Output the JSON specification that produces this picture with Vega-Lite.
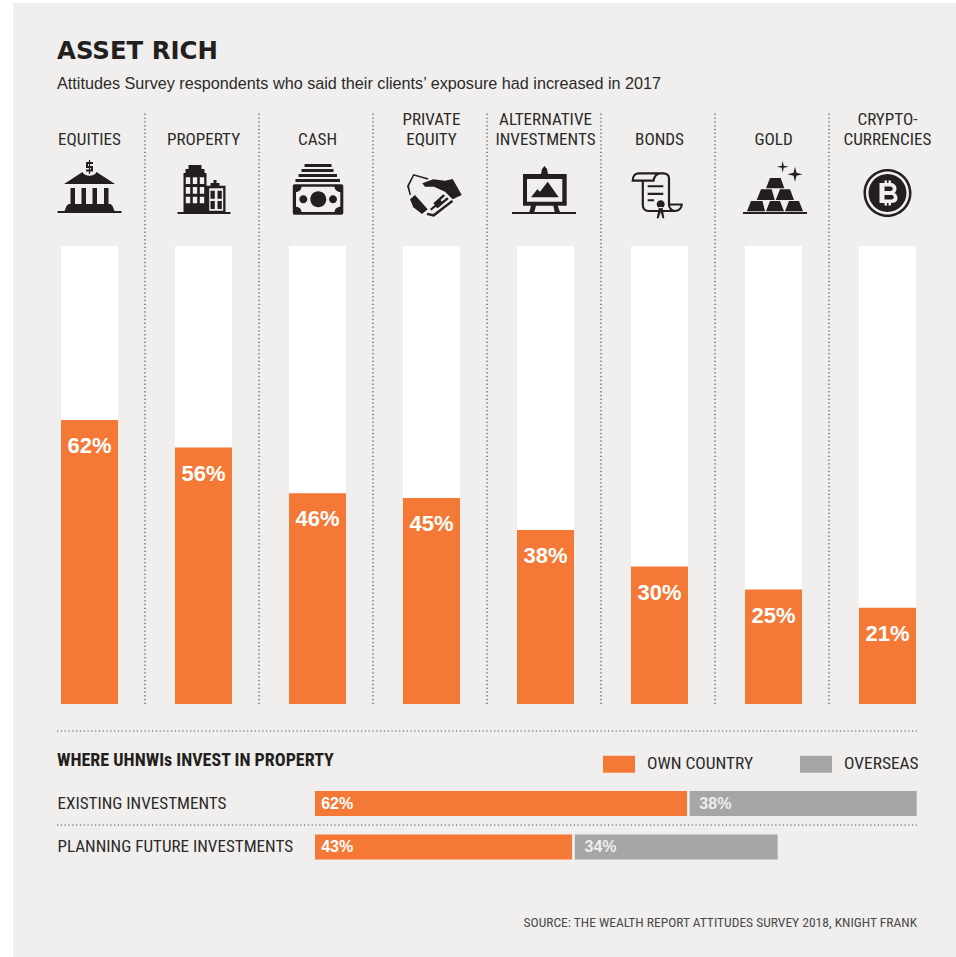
{
"$schema":"https://vega.github.io/schema/vega-lite/v6.json",
"width":943,"height":954,
"padding":{"left":13,"top":3,"right":0,"bottom":0},
"autosize":{"type":"none"},
"background":"#ffffff",
"view":{"fill":"#f0efed","stroke":null},
"config":{"view":{"stroke":null},"font":"Liberation Sans"},
"title":{"text":"ASSET RICH","subtitle":"Attitudes Survey respondents who said their clients’ exposure had increased in 2017","anchor":"start","frame":"group","dx":44,"offset":-90,"font":"DejaVu Sans","fontWeight":"bold","fontSize":24.4,"color":"#231f20","subtitleFont":"Liberation Sans","subtitleFontSize":16.2,"subtitleColor":"#2b2a29","subtitlePadding":11},
"resolve":{"scale":{"x":"independent","y":"independent"}},
"layer":[
{
"data":{"values":[
{"category":"EQUITIES","value":0.62},
{"category":"PROPERTY","value":0.56},
{"category":"CASH","value":0.46},
{"category":"PRIVATE EQUITY","value":0.45},
{"category":"ALTERNATIVE INVESTMENTS","value":0.38},
{"category":"BONDS","value":0.30},
{"category":"GOLD","value":0.25},
{"category":"CRYPTO-CURRENCIES","value":0.21}
]},
"encoding":{"x":{"field":"category","type":"nominal","sort":null,"title":null,
"scale":{"range":[19.5,931.5],"paddingInner":0.5,"paddingOuter":0.25},
"axis":{"orient":"top","offset":-125,"domain":false,"ticks":false,"labelAngle":0,"labelPadding":0,"labelFont":"Roboto Condensed","labelFontSize":17.1,"labelColor":"#2b2a29","labelLineHeight":20,"labelBaseline":"bottom","labelOverlap":false,"labelFlush":false,"labelBound":false,"labelLimit":0,"grid":false,"labelExpr":"indexof(datum.label,' ')<0 && indexof(datum.label,'-')<0 ? ['',datum.label] : split(replace(datum.label,'-','- '),' ')"}}},
"layer":[
{"mark":{"type":"bar","fill":"#ffffff"},"encoding":{"y":{"datum":1,"type":"quantitative","title":null,"scale":{"domain":[0,1],"range":[701,243]},"axis":null}}},
{"mark":{"type":"bar","fill":"#f47836"},"encoding":{"y":{"field":"value","type":"quantitative","stack":null}}},
{"mark":{"type":"text","fill":"#ffffff","font":"Liberation Sans","fontWeight":"bold","fontSize":22,"baseline":"middle","yOffset":26},"encoding":{"y":{"field":"value","type":"quantitative"},"text":{"field":"value","format":".0%"}}},
{"transform":[{"filter":"datum.category !== 'EQUITIES'"}],"mark":{"type":"rule","stroke":"#333333","strokeWidth":1,"strokeDash":[1.3,2.5],"xOffset":-58.5,"y2Offset":-133},"encoding":{"y":{"datum":0,"type":"quantitative"},"y2":{"datum":1}}},
{"mark":{"type":"point","filled":true,"fill":"#231f20","opacity":1,"size":4,"strokeWidth":0,"yOffset":-63},"encoding":{"y":{"datum":1,"type":"quantitative"},"shape":{"field":"category","legend":null,"scale":{"domain":["EQUITIES","PROPERTY","CASH","PRIVATE EQUITY","ALTERNATIVE INVESTMENTS","BONDS","GOLD","CRYPTO-CURRENCIES"],"range":[
"M-32,28H32V30H-32Z M-25,28 L-23,23 L-21,21 H21 L23,23 L25,28Z M-19,5H-14.5V21H-19Z M-8,5H-3.5V21H-8Z M3,5H7.5V21H3Z M14.5,5H19V21H14.5Z M-25.5,1 L-7,-11 C-5,-6 5,-6 7,-11 L25.5,1Z M-0.6,-23H0.6V-9H-0.6Z M-3.5,-21H3.5V-19H-1.5V-17H3.5V-11.5H-3.5V-13.5H1.5V-15H-3.5Z",
"M-26,29H27V31H-26Z M-15,-18H-2V-14H-15Z M-18,-14H1V-10H-18Z M-20,-10H3V29H-20Z M-17.7,-5.7V1H-13.3V-5.7Z M-10.7,-5.7V1H-6.3V-5.7Z M-3.7,-5.7V1H0.7V-5.7Z M-17.7,4V10.7H-13.3V4Z M-10.7,4V10.7H-6.3V4Z M-3.7,4V10.7H0.7V4Z M-17.7,13.7V20.3H-13.3V13.7Z M-10.7,13.7V20.3H-6.3V13.7Z M-3.7,13.7V20.3H0.7V13.7Z M3,2.7H7V0H10V-3H13V0H16V2.7H22V29H3Z M5.7,5.3V27.7H19.7V5.3Z M7,7.7H11.3V15.7H7Z M14,7.7H18.3V15.7H14Z M7,18H11.3V26H7Z M14,18H18.3V26H14Z",
"M-13,-19H14V-16H-13Z M-16,-14H16V-11H-16Z M-19,-9H19.5V-6H-19Z M-22,-4H22.5V-1H-22Z M-23,1.3H24C25,1.3 25.8,2 25.8,3V30C25.8,31 25,31.7 24,31.7H-23C-24,31.7 -24.7,31 -24.7,30V3C-24.7,2 -24,1.3 -23,1.3Z M-16,3.7 C-16,6.5 -18.5,9 -21.5,9 V23.7 C-18.5,23.7 -16,26 -16,29 H17 C17,26 19.8,23.7 22.8,23.7 V9 C19.8,9 17,6.5 17,3.7Z M-7.2,16.3A8,8 0 1 1 8.8,16.3A8,8 0 1 1 -7.2,16.3Z M-18.2,16.3A4,4 0 1 1 -10.2,16.3A4,4 0 1 1 -18.2,16.3Z M11.5,16.3A4,4 0 1 1 19.5,16.3A4,4 0 1 1 11.5,16.3Z",
"M-9.2,0.3 L1.8,-3.7 L13.5,-2.3 L21.2,-4 L30.2,12 L21.2,16.3 L13.5,8.7 L2.5,3.7 L-6.5,3.7Z M-18.2,-9 L-3.2,-4.7 L-3.5,-3.3 L-17.5,-7.3 L-22.5,3 L-20.5,12 L-21.8,12.3 L-24.5,3Z M-21.5,16.3 L-16.5,12 L-3.8,26.3 L-9.5,31 L-18.2,24.3Z M1.8,20.3 L11.8,11.3 L13.5,13 L3.5,22Z M4.2,23.7 L15.5,14.3 L17.2,16 L6.2,25.3Z M-4.2,29.7 L1.8,31 L20.2,17 L21.8,18.7 L2.5,33.7 L-4.8,32Z M-1.5,26 L9,17 L10.5,18.5 L0,27.5Z",
"M-33.5,29H30.5V31H-33.5Z M-22.5,-9H21.2V22.7H-22.5Z M-18.5,-4V18.7H16.8V-4Z M-14.5,14.3 L-8.2,6.3 L-5.5,8.7 L2.2,-1.3 L13.2,14.3Z M-4.5,-9 L-3.5,-14 L-1,-17 L1.5,-14 L2.5,-9Z M-14.5,22.7 H-9.5 L-11.2,29 H-16.2Z M7.8,22.7 H12.2 L14.5,29 H9.2Z",
"M-11.8,2.3H3.8V4.3H-11.8Z M-11.8,9.7H3.8V12H-11.8Z M-11.8,16.3H-5.5V18.3H-11.8Z M-2.8,21.3A4,4 0 1 1 5.2,21.3A4,4 0 1 1 -2.8,21.3Z M-0.5,24 L-2.8,35.3 H-0.8 L1.2,29 L3,35.3 H4.8 L3,24Z",
"M-30.5,29H33.5V31H-30.5Z M-22.5,18H-11L-8.5,28.3H-26.5Z M-3.5,18H6.5L10.5,28.3H-7.5Z M15.5,18H25.5L29.5,28.3H11.5Z M-12.5,6.3H-1.8L1.2,17H-16.8Z M6.5,6.3H16.5L20.5,17H2.2Z M-3.5,-5H7.2L10.8,5.3H-7.5Z M9.2,-22.3L10.2,-17.3L15.2,-16.3L10.2,-15.3L9.2,-10.3L8.2,-15.3L3.2,-16.3L8.2,-17.3Z M21.5,-16.2L23,-10.2L29,-8.7L23,-7.2L21.5,-1.2L20,-7.2L14,-8.7L20,-10.2Z",
"M-24,10A24,24 0 1 1 24,10A24,24 0 1 1 -24,10Z M-21.5,10A21.5,21.5 0 1 0 21.5,10A21.5,21.5 0 1 0 -21.5,10Z M-19,10A19,19 0 1 1 19,10A19,19 0 1 1 -19,10Z M-8,0V20H4C9,20 10,17 10,15C10,12 8,10.5 7,10C8.5,9 9,7 9,5.5C9,2 6,0 3,0Z M-3,-2.5V0H-0.5V-2.5Z M1,-2.5V0H3.5V-2.5Z M-3,20V22.5H-0.5V20Z M1,20V22.5H3.5V20Z M-3,3.5H3C6,3.5 6,8 3,8H-3Z M-3,12H4C7,12 7,16.5 4,16.5H-3Z"
]}}}},
{"transform":[{"filter":"datum.category === 'BONDS'"}],"mark":{"type":"point","filled":false,"fill":null,"stroke":"#231f20","opacity":1,"size":4,"strokeWidth":2.2,"yOffset":-63,"shape":"M-16.7,-1.3V22C-16.7,25.5 -14.5,28 -11.2,28H15.5C19.5,28 22.2,25 22.2,21.5L10.5,21.5 M9.5,22V-4.7C9.5,-7.7 7,-9.7 3.8,-9.7H-21.2C-24.5,-9.7 -26.8,-6.5 -26.8,-2.3H-6C-5.5,-6 -3,-9.7 0.5,-9.7 M9.5,21.5C9.5,25 12,28 15.5,28"},"encoding":{"y":{"datum":1,"type":"quantitative"}}}
]
},
{
"data":{"values":[
{"row":"EXISTING INVESTMENTS","segment":"OWN COUNTRY","share":0.62},
{"row":"EXISTING INVESTMENTS","segment":"OVERSEAS","share":0.38},
{"row":"PLANNING FUTURE INVESTMENTS","segment":"OWN COUNTRY","share":0.43},
{"row":"PLANNING FUTURE INVESTMENTS","segment":"OVERSEAS","share":0.34}
]},
"transform":[{"stack":"share","groupby":["row"],"sort":[{"field":"segment","order":"descending"}],"as":["x0","x1"]}],
"encoding":{
"y":{"field":"row","type":"nominal","sort":null,"title":null,"scale":{"range":[778.75,865.75],"paddingInner":0.366,"paddingOuter":0.183},
"axis":{"orient":"left","offset":-44,"domain":false,"ticks":false,"labelPadding":0,"labelAlign":"left","labelBaseline":"middle","labelFont":"Roboto Condensed","labelFontSize":17.1,"labelColor":"#2b2a29","labelLimit":0,"grid":false}},
"x":{"field":"x0","type":"quantitative","title":null,"scale":{"domain":[0,1],"range":[300.7,905]},"axis":null}
},
"layer":[
{"mark":{"type":"bar","stroke":"#f0efed","strokeWidth":2.6},"encoding":{"x2":{"field":"x1"},"color":{"field":"segment","type":"nominal","sort":null,"scale":{"domain":["OWN COUNTRY","OVERSEAS"],"range":["#f47836","#a6a6a6"]},
"legend":{"orient":"none","legendX":590,"legendY":745,"direction":"horizontal","title":null,"symbolType":"M-1,-0.53H1V0.53H-1Z","symbolSize":1024,"symbolStrokeWidth":0,"labelFont":"Roboto Condensed","labelFontSize":17.4,"labelColor":"#2b2a29","labelOffset":12,"columnPadding":46,"gridAlign":"each","labelLimit":0}}}},
{"transform":[{"filter":"datum.segment === 'OWN COUNTRY'"}],"mark":{"type":"text","align":"left","baseline":"middle","xOffset":7.5,"fill":"#ffffff","font":"Liberation Sans","fontWeight":"bold","fontSize":16},"encoding":{"text":{"field":"share","format":".0%"}}},
{"transform":[{"filter":"datum.segment === 'OVERSEAS'"}],"mark":{"type":"text","align":"left","baseline":"middle","xOffset":11,"fill":"#eeeeee","font":"Liberation Sans","fontWeight":"bold","fontSize":16},"encoding":{"text":{"field":"share","format":".0%"}}},
{"transform":[{"filter":"datum.row === 'EXISTING INVESTMENTS' && datum.segment === 'OWN COUNTRY'"}],"mark":{"type":"rule","stroke":"#555555","strokeWidth":1,"strokeDash":[1.3,2.5],"xOffset":-256.7,"x2Offset":-1,"yOffset":-58.7},"encoding":{"y":{"field":"row","type":"nominal","sort":null,"bandPosition":0},"x":{"datum":0,"type":"quantitative"},"x2":{"datum":1}}},
{"transform":[{"filter":"datum.row === 'PLANNING FUTURE INVESTMENTS' && datum.segment === 'OWN COUNTRY'"}],"mark":{"type":"rule","stroke":"#555555","strokeWidth":1,"strokeDash":[1.3,2.5],"xOffset":-256.7,"x2Offset":-1,"yOffset":-8.2},"encoding":{"y":{"field":"row","type":"nominal","sort":null,"bandPosition":0},"x":{"datum":0,"type":"quantitative"},"x2":{"datum":1}}},
{"transform":[{"filter":"datum.row === 'EXISTING INVESTMENTS' && datum.segment === 'OWN COUNTRY'"}],"mark":{"type":"text","align":"left","baseline":"middle","xOffset":-256.7,"yOffset":-42.5,"font":"Roboto Condensed","fontWeight":"bold","fontSize":18,"fill":"#231f20"},"encoding":{"x":{"datum":0,"type":"quantitative"},"text":{"value":"WHERE UHNWIs INVEST IN PROPERTY"}}},
{"transform":[{"filter":"datum.row === 'PLANNING FUTURE INVESTMENTS' && datum.segment === 'OWN COUNTRY'"}],"mark":{"type":"text","align":"right","baseline":"middle","xOffset":-1,"yOffset":76,"font":"Roboto Condensed","fontSize":13.5,"fill":"#4a4a4a"},"encoding":{"x":{"datum":1,"type":"quantitative"},"text":{"value":"SOURCE: THE WEALTH REPORT ATTITUDES SURVEY 2018, KNIGHT FRANK"}}}
]
}
]
}
